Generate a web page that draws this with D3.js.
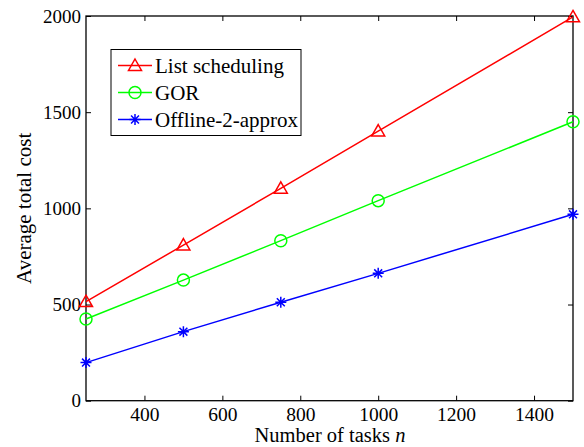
<!DOCTYPE html>
<html><head><meta charset="utf-8">
<script src="https://cdn.jsdelivr.net/npm/d3@7"></script>
<style>body{margin:0;background:#fff}svg{display:block}
svg text{font-family:"Liberation Serif","Times New Roman",serif;fill:#000}</style>
</head><body>
<svg id="c" width="584" height="447"></svg>
<script>
const xValues = [250, 500, 750, 1000, 1500];
const listScheduling = [515, 809, 1104, 1402, 1995];
const gor = [425, 627, 832, 1040, 1450];
const offline2 = [198, 359, 512, 662, 969];
const xTicks = [400, 600, 800, 1000, 1200, 1400];
const yTicks = [0, 500, 1000, 1500, 2000];
const seriesNames = ["List scheduling", "GOR", "Offline-2-approx"];
const seriesColors = ["#ff0000", "#00ff00", "#0000ff"];
const seriesMarkers = ["triangle", "circle", "asterisk"];

const svg = d3.select("#c");
const m = {l: 86, r: 573, t: 16, b: 400.7};
const x = d3.scaleLinear().domain([250, 1500]).range([m.l, m.r]);
const y = d3.scaleLinear().domain([0, 2000]).range([m.b, m.t]);

const gx = svg.append("g").attr("transform", `translate(0,${m.b})`)
  .call(d3.axisBottom(x).tickValues(xTicks).tickFormat(d3.format("d")).tickSizeInner(-5).tickSizeOuter(0).tickPadding(6));
const gxt = svg.append("g").attr("transform", `translate(0,${m.t})`)
  .call(d3.axisTop(x).tickValues(xTicks).tickSizeInner(-5).tickSizeOuter(0).tickFormat(""));
const gy = svg.append("g").attr("transform", `translate(${m.l},0)`)
  .call(d3.axisLeft(y).tickValues(yTicks).tickFormat(d3.format("d")).tickSizeInner(-5).tickSizeOuter(0).tickPadding(5));
const gyr = svg.append("g").attr("transform", `translate(${m.r},0)`)
  .call(d3.axisRight(y).tickValues(yTicks).tickSizeInner(-5).tickSizeOuter(0).tickFormat(""));
[gx, gxt, gy, gyr].forEach(g => {
  g.attr("font-family", null).attr("font-size", null);
  g.select(".domain").remove();
  g.selectAll("line").attr("stroke", "#000").attr("stroke-width", 1);
  g.selectAll("text").attr("fill", "#000");
});
gx.selectAll("text").attr("font-size", 19.5).attr("dy", "0.71em");
gy.selectAll("text").attr("font-size", 19);

svg.append("rect").attr("x", m.l).attr("y", m.t).attr("width", m.r - m.l).attr("height", m.b - m.t)
  .attr("fill", "none").attr("stroke", "#000").attr("stroke-width", 1.3);

svg.append("text").attr("x", 330).attr("y", 442.3).attr("text-anchor", "middle")
  .attr("font-size", 20.5)
  .html('Number of tasks <tspan font-style="italic">n</tspan>');
svg.append("text").attr("transform", `translate(31,${(m.t + m.b) / 2}) rotate(-90)`)
  .attr("text-anchor", "middle").attr("font-size", 21)
  .text("Average total cost");

function drawMarker(g, type, cx, cy, color) {
  if (type === "triangle") {
    const s = 6.5;
    g.append("path").attr("d", `M${cx},${cy - s} L${cx + s},${cy + s * 0.75} L${cx - s},${cy + s * 0.75} Z`)
      .attr("fill", "none").attr("stroke", color).attr("stroke-width", 1.5);
  } else if (type === "circle") {
    g.append("circle").attr("cx", cx).attr("cy", cy).attr("r", 6)
      .attr("fill", "none").attr("stroke", color).attr("stroke-width", 1.5);
  } else {
    const s = 5.5;
    let d = `M${cx - s},${cy}L${cx + s},${cy}M${cx},${cy - s}L${cx},${cy + s}`;
    const k = s * 0.72;
    d += `M${cx - k},${cy - k}L${cx + k},${cy + k}M${cx - k},${cy + k}L${cx + k},${cy - k}`;
    g.append("path").attr("d", d).attr("stroke", color).attr("stroke-width", 1.5).attr("fill", "none");
  }
}

const allSeries = [listScheduling, gor, offline2];
const line = d3.line().x((d, i) => x(xValues[i])).y(d => y(d));
allSeries.forEach((vals, si) => {
  const g = svg.append("g");
  g.append("path").datum(vals).attr("d", line).attr("fill", "none")
    .attr("stroke", seriesColors[si]).attr("stroke-width", 1.5);
  vals.forEach((v, i) => drawMarker(g, seriesMarkers[si], x(xValues[i]), y(v), seriesColors[si]));
});

const lg = svg.append("g");
lg.append("rect").attr("x", 111).attr("y", 49.5).attr("width", 190).attr("height", 86)
  .attr("fill", "#fff").attr("stroke", "#000").attr("stroke-width", 1);
seriesNames.forEach((name, i) => {
  const cy = 65.5 + i * 27;
  lg.append("line").attr("x1", 118).attr("x2", 152).attr("y1", cy).attr("y2", cy)
    .attr("stroke", seriesColors[i]).attr("stroke-width", 1.5);
  drawMarker(lg, seriesMarkers[i], 135, cy, seriesColors[i]);
  lg.append("text").attr("x", 155).attr("y", cy + 7).attr("font-size", 21)
    .text(name);
});
</script>
</body></html>
